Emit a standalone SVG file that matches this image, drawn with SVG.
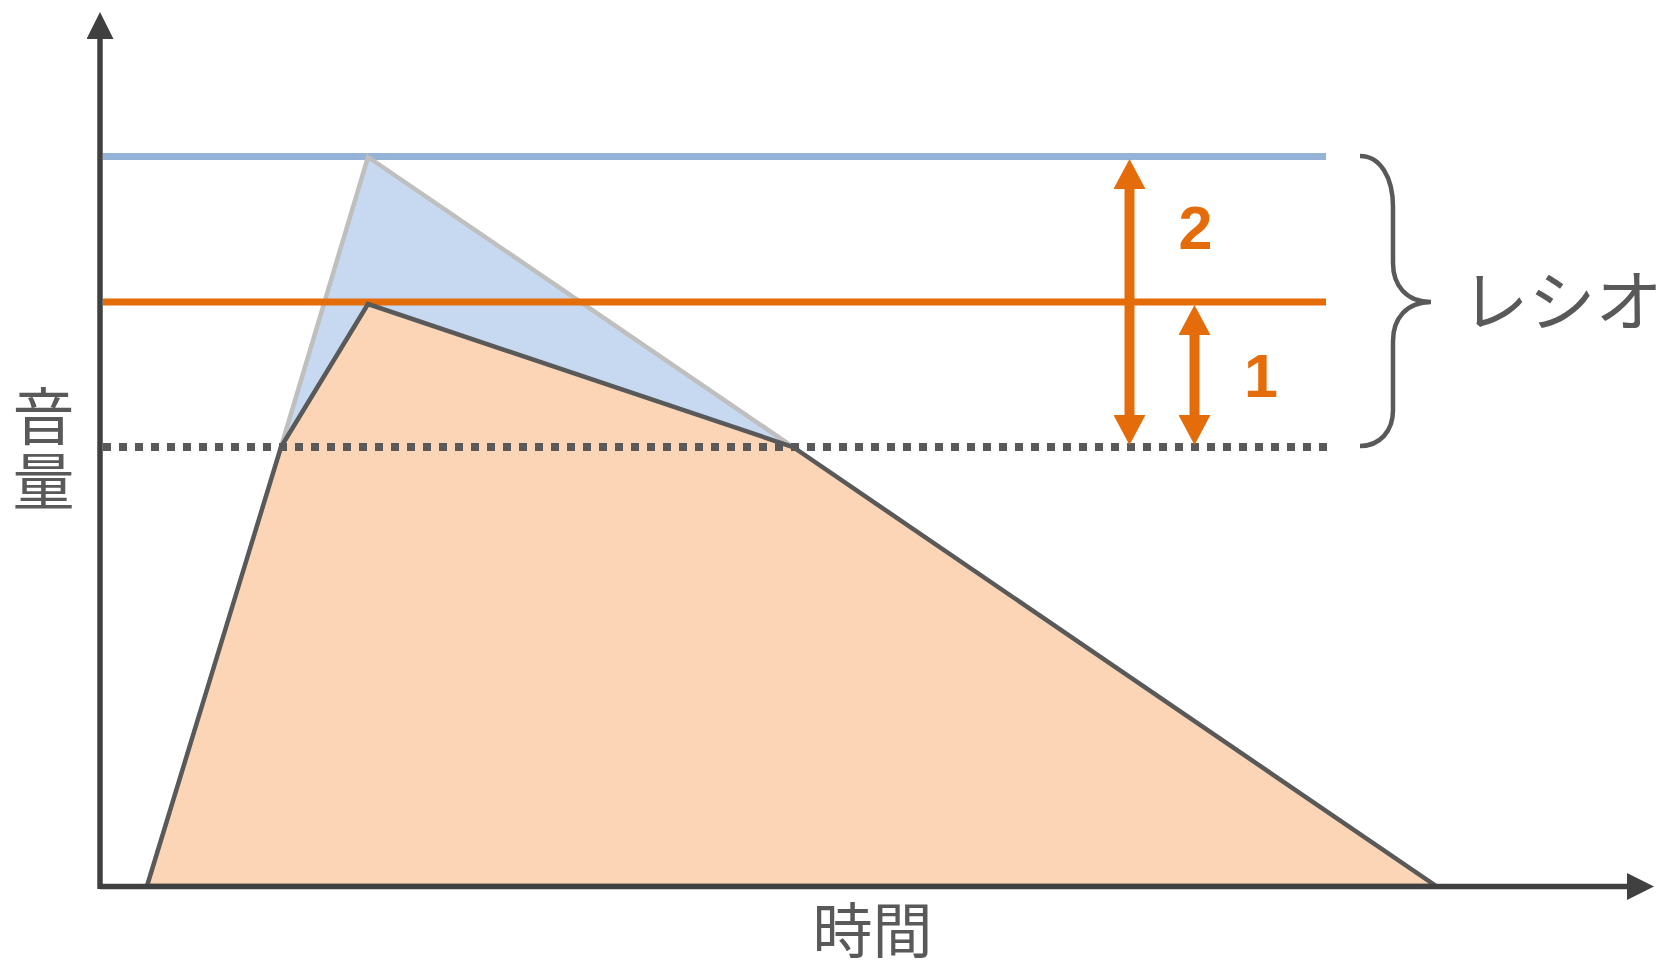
<svg xmlns="http://www.w3.org/2000/svg" width="1662" height="964" viewBox="0 0 1662 964">
<style>
.axis{stroke:#404040;stroke-width:5.5;fill:none}
.lvl{fill:none;stroke-width:7}
.dark{stroke:#595959;stroke-width:4.5;stroke-linejoin:miter}
.arr{stroke:#E46C0A;stroke-width:10;fill:none}
.lbl{font-family:"Noto Sans CJK JP","Noto Sans",sans-serif;fill:#595959}
.num{font-family:"Liberation Sans",Arial,sans-serif;font-weight:bold;fill:#E46C0A;font-size:61px}
</style>
<defs>
<marker id="axhead" viewBox="0 0 27 27" refX="1" refY="13.5" markerWidth="27" markerHeight="27" markerUnits="userSpaceOnUse" orient="auto">
<path d="M0,0 L27,13.5 L0,27 z" fill="#404040"/>
</marker>
<marker id="orhead" viewBox="0 0 30 32" refX="1" refY="16" markerWidth="30" markerHeight="32" markerUnits="userSpaceOnUse" orient="auto-start-reverse">
<path d="M0,0 L30,16 L0,32 z" fill="#E46C0A"/>
</marker>
</defs>
<rect width="1662" height="964" fill="#FFFFFF"/>
<g id="blue-level">
<line class="lvl" x1="103" y1="156.5" x2="1326" y2="156.5" stroke="#95B3D7"/>
</g>
<g id="original-shape">
<polygon points="281,447 368,157 793,447" fill="#C6D9F1" stroke="#BFBFBF" stroke-width="4.5"/>
</g>
<g id="orange-level">
<line class="lvl" x1="103" y1="302" x2="1326" y2="302" stroke="#E46C0A"/>
</g>
<g id="compressed-shape">
<polygon class="dark" points="147,886 281,447 368,304 793,447 1436,886" fill="#FBD5B5"/>
</g>
<g id="threshold">
<line x1="103" y1="447" x2="1328" y2="447" stroke="#595959" stroke-width="8" stroke-dasharray="8 8"/>
</g>
<g id="axes">
<line class="axis" x1="100" y1="886.5" x2="1628" y2="886.5" marker-end="url(#axhead)"/>
<line class="axis" x1="100" y1="889" x2="100" y2="38" marker-end="url(#axhead)"/>
</g>
<g id="connectors">
<line class="arr" x1="1129.5" y1="188" x2="1129.5" y2="416" marker-start="url(#orhead)" marker-end="url(#orhead)"/>
<line class="arr" x1="1194.5" y1="334" x2="1194.5" y2="416" marker-start="url(#orhead)" marker-end="url(#orhead)"/>
</g>
<g id="brace">
<path d="M1360,156 C1380,156 1393,177 1393,207 L1393,263 C1393,285 1406,302 1431,302 C1406,302 1393,319 1393,341 L1393,410 C1393,431 1380,446 1360,446" fill="none" stroke="#595959" stroke-width="4.5"/>
</g>
<g id="label-2"><text class="num" x="1195.5" y="249" text-anchor="middle">2</text></g>
<g id="label-1"><text class="num" x="1261" y="397" text-anchor="middle">1</text></g>
<g id="label-ratio"><text class="lbl" x="1562" y="326" text-anchor="middle" font-size="67">レシオ</text></g>
<g id="label-volume">
<text class="lbl" x="43.5" y="385" writing-mode="vertical-rl" letter-spacing="3" font-size="62">音量</text>
</g>
<g id="label-time"><text class="lbl" x="872.5" y="953" text-anchor="middle" font-size="60">時間</text></g>
</svg>
